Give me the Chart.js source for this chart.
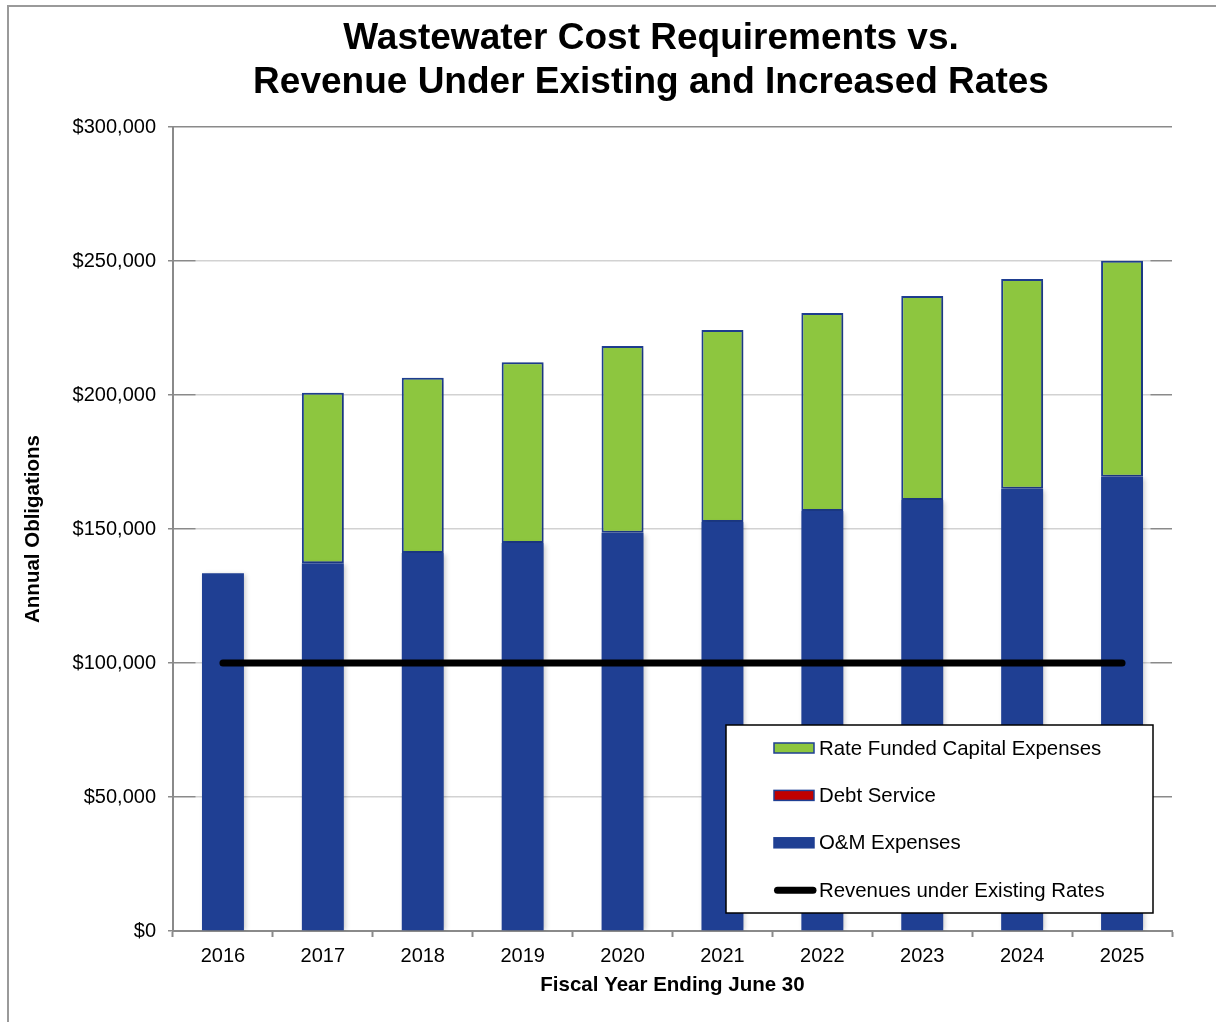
<!DOCTYPE html>
<html>
<head>
<meta charset="utf-8">
<title>Wastewater Cost Requirements vs. Revenue</title>
<script src="https://cdn.jsdelivr.net/npm/chart.js@4.4.1/dist/chart.umd.min.js"></script>
<style>
  html, body { margin: 0; padding: 0; background: #fff; }
  canvas { display: block; }
</style>
</head>
<body>
<canvas id="chart" width="1216" height="1022"></canvas>
<script>
// Fiscal years and annual amounts (dollars)
const years = ['2016', '2017', '2018', '2019', '2020', '2021', '2022', '2023', '2024', '2025'];
const omExpenses = [133500, 137200, 141000, 144800, 148600, 152600, 156700, 160800, 165000, 169500];
const debtService = [0, 0, 0, 0, 0, 0, 0, 0, 0, 0];
const capitalExpenses = [0, 63600, 65400, 67400, 69700, 71700, 73900, 76100, 78300, 80600];
const existingRevenue = [100000, 100000, 100000, 100000, 100000, 100000, 100000, 100000, 100000, 100000];

const titleLines = ['Wastewater Cost Requirements vs.', 'Revenue Under Existing and Increased Rates'];
const yAxisTitle = 'Annual Obligations';
const xAxisTitle = 'Fiscal Year Ending June 30';
const yMin = 0, yMax = 300000, yStep = 50000;

const FONT = '"Liberation Sans", Arial, Helvetica, sans-serif';
const BLUE = '#1F3F93';
const GREEN = '#8DC63F';
const RED = '#C00000';
const AXIS_GREY = '#8A8A8A';

// White page with a thin grey frame
const framePlugin = {
  id: 'frame',
  beforeDraw(chart) {
    const ctx = chart.ctx;
    ctx.save();
    ctx.fillStyle = '#fff';
    ctx.fillRect(0, 0, chart.width, chart.height);
    ctx.strokeStyle = '#9a9a9a';
    ctx.lineWidth = 2;
    ctx.strokeRect(8, 6, chart.width + 50, chart.height + 50);
    ctx.restore();
  }
};

// Soft shadow behind the bar columns
const barShadowPlugin = {
  id: 'barShadow',
  beforeDatasetDraw(chart, args) {
    if (args.meta.type !== 'bar') return;
    const ctx = chart.ctx;
    ctx.save();
    ctx.shadowColor = 'rgba(0,0,0,0.22)';
    ctx.shadowBlur = 5;
    ctx.shadowOffsetX = 2;
    ctx.shadowOffsetY = 1;
  },
  afterDatasetDraw(chart, args) {
    if (args.meta.type !== 'bar') return;
    chart.ctx.restore();
  }
};

// Two-line bold title
const titlePlugin = {
  id: 'twoLineTitle',
  afterDraw(chart) {
    const ctx = chart.ctx;
    ctx.save();
    ctx.fillStyle = '#000';
    ctx.font = 'bold 37px ' + FONT;
    ctx.textAlign = 'center';
    ctx.textBaseline = 'alphabetic';
    ctx.fillText(titleLines[0], 651, 49);
    ctx.fillText(titleLines[1], 651, 93);
    ctx.restore();
  }
};

// Boxed legend inside the lower right of the plot area
const legendBoxPlugin = {
  id: 'legendBox',
  afterDraw(chart) {
    const ctx = chart.ctx;
    const area = chart.chartArea;
    const right = area.right - 19;
    const bottom = area.bottom - 18;
    const w = 427, h = 188;
    const left = right - w, top = bottom - h;
    ctx.save();
    ctx.fillStyle = '#fff';
    ctx.fillRect(left, top, w, h);
    ctx.strokeStyle = '#000';
    ctx.lineWidth = 1.5;
    ctx.strokeRect(left, top, w, h);

    // Entry order: capital, debt, O&M, revenue line
    const byLabel = (l) => chart.data.datasets.find(d => d.label === l);
    const entries = ['Rate Funded Capital Expenses', 'Debt Service', 'O&M Expenses', 'Revenues under Existing Rates'].map(byLabel);
    const rowGap = 47.4;
    const swatchX = left + 48, swatchW = 40, swatchH = 10;
    ctx.font = '20.4px ' + FONT;
    ctx.textBaseline = 'middle';
    ctx.textAlign = 'left';
    entries.forEach((ds, i) => {
      const cy = top + 23 + i * rowGap;
      if (ds.type === 'line') {
        ctx.strokeStyle = ds.borderColor;
        ctx.lineWidth = ds.borderWidth;
        ctx.lineCap = 'round';
        ctx.beginPath();
        ctx.moveTo(swatchX + 3.5, cy);
        ctx.lineTo(swatchX + swatchW - 1, cy);
        ctx.stroke();
      } else {
        ctx.fillStyle = ds.backgroundColor;
        ctx.fillRect(swatchX, cy - swatchH / 2, swatchW, swatchH);
        ctx.strokeStyle = ds.legendBorder;
        ctx.lineWidth = 1.5;
        ctx.strokeRect(swatchX, cy - swatchH / 2, swatchW, swatchH);
      }
      ctx.fillStyle = '#000';
      ctx.fillText(ds.label, swatchX + swatchW + 5, cy + 1);
    });
    ctx.restore();
  }
};

// Horizontal gridlines: darker near the plot edges, lighter across the middle
function gridColor(context) {
  const chart = context.chart;
  const area = chart.chartArea;
  if (!area) return '#cfcfcf';
  if (context.tick && context.tick.value === yMax) return AXIS_GREY;
  const g = chart.ctx.createLinearGradient(area.left, 0, area.right, 0);
  const w = area.right - area.left;
  const a = 22 / w, b = (w - 21) / w;
  g.addColorStop(0, AXIS_GREY);
  g.addColorStop(a, AXIS_GREY);
  g.addColorStop(Math.min(a + 0.001, 1), '#d2d2d2');
  g.addColorStop(Math.max(b - 0.001, 0), '#d2d2d2');
  g.addColorStop(b, AXIS_GREY);
  g.addColorStop(1, AXIS_GREY);
  return g;
}

const ctx = document.getElementById('chart').getContext('2d');
new Chart(ctx, {
  data: {
    labels: years,
    // Stacks build up by 'order': O&M at the base, then debt, then capital;
    // the revenue line (order 0) is painted last, over the bars
    datasets: [
      {
        type: 'bar',
        label: 'O&M Expenses',
        data: omExpenses,
        backgroundColor: BLUE,
        borderColor: BLUE,
        legendBorder: BLUE,
        borderWidth: 0,
        stack: 'costs',
        order: 1
      },
      {
        type: 'bar',
        label: 'Debt Service',
        data: debtService,
        backgroundColor: RED,
        borderColor: BLUE,
        legendBorder: BLUE,
        borderWidth: 0,
        stack: 'costs',
        order: 2
      },
      {
        type: 'bar',
        label: 'Rate Funded Capital Expenses',
        data: capitalExpenses,
        backgroundColor: GREEN,
        borderColor: BLUE,
        legendBorder: BLUE,
        borderWidth: 2,
        borderSkipped: false,
        stack: 'costs',
        order: 3
      },
      {
        type: 'line',
        label: 'Revenues under Existing Rates',
        data: existingRevenue,
        borderColor: '#000',
        backgroundColor: '#000',
        borderWidth: 7,
        borderCapStyle: 'round',
        pointRadius: 0,
        pointHoverRadius: 0,
        stack: 'revenue',
        order: 0
      }
    ]
  },
  options: {
    responsive: false,
    animation: false,
    events: [],
    layout: { padding: { left: 0, right: 44, top: 127, bottom: 0 } },
    datasets: {
      bar: { categoryPercentage: 1.0, barPercentage: 0.42 }
    },
    plugins: {
      legend: { display: false },
      title: { display: false },
      tooltip: { enabled: false }
    },
    scales: {
      x: {
        stacked: true,
        offset: true,
        grid: {
          display: true,
          drawOnChartArea: false,
          drawTicks: true,
          tickLength: 6,
          tickColor: AXIS_GREY,
          tickWidth: 2,
          offset: true
        },
        border: { display: true, color: AXIS_GREY, width: 2 },
        ticks: {
          color: '#000',
          padding: 7,
          maxRotation: 0,
          font: { family: FONT, size: 20 }
        },
        title: {
          display: true,
          text: xAxisTitle,
          color: '#000',
          font: { family: FONT, size: 20.5, weight: 'bold' },
          padding: { top: 0, bottom: 24 }
        },
        afterFit(scale) { scale.height = 91; }
      },
      y: {
        stacked: true,
        min: yMin,
        max: yMax,
        grid: {
          color: gridColor,
          lineWidth: 1.5,
          drawTicks: true,
          tickLength: 5,
          tickColor: AXIS_GREY,
          tickWidth: 1.5
        },
        border: { display: true, color: AXIS_GREY, width: 2 },
        ticks: {
          stepSize: yStep,
          color: '#000',
          padding: 12,
          font: { family: FONT, size: 20 },
          callback: (v) => '$' + Number(v).toLocaleString('en-US')
        },
        title: {
          display: true,
          text: yAxisTitle,
          color: '#000',
          font: { family: FONT, size: 20.5, weight: 'bold' },
          padding: { top: 21, bottom: 0 }
        },
        afterFit(scale) { scale.width = 173; }
      }
    }
  },
  plugins: [framePlugin, barShadowPlugin, titlePlugin, legendBoxPlugin]
});
</script>
</body>
</html>
